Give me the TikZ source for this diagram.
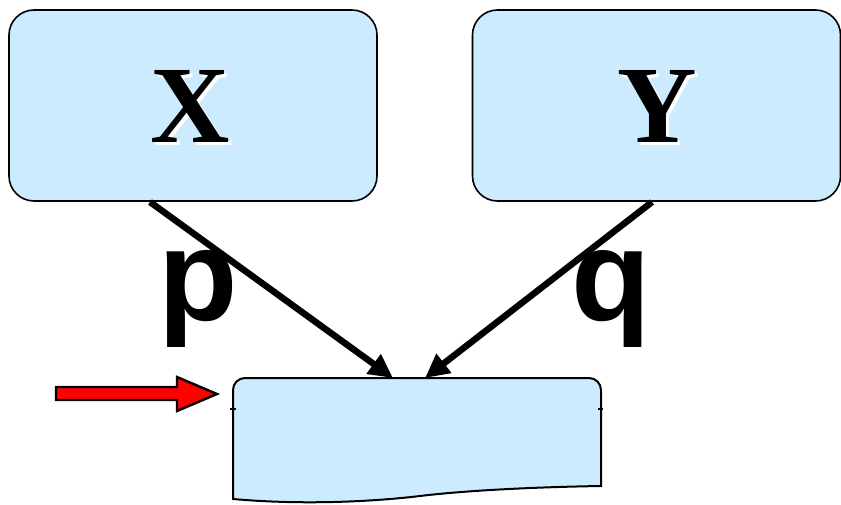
\documentclass[tikz,border=0pt]{standalone}
\usepackage{fontspec}
\setmainfont{Liberation Serif}
\newfontfamily\sansf{Liberation Sans}
\usetikzlibrary{arrows.meta}
\definecolor{boxblue}{HTML}{CCEBFF}
\tikzset{
  bigbox/.style={draw=black, line width=1.6pt, fill=boxblue, rounded corners=25pt,
    minimum width=368pt, minimum height=191pt, inner sep=0pt},
  bigletter/.style={font=\fontsize{110}{110}\selectfont\bfseries, anchor=base, inner sep=0pt},
  shadowletter/.style={bigletter, text=white},
  biglabel/.style={font=\sansf\fontsize{130}{130}\selectfont\bfseries, anchor=base, inner sep=0pt},
  conn/.style={line width=6.5pt, -{Triangle[length=24pt,width=23pt]}},
  docline/.style={draw=black, line width=2pt, fill=boxblue},
  redarrow/.style={draw=black, line width=2.4pt, fill=red}
}
\begin{document}
\begin{tikzpicture}[x=1pt,y=-1pt]
\useasboundingbox (0,0) rectangle (841,505);
% top boxes
\node[bigbox] (X) at (193,105.5) {};
\node[bigbox] (Y) at (656.5,105.5) {};
\node[shadowletter] (Xs) at (193,146) {X};
\node[bigletter] (Xl) at (190,143) {X};
\node[shadowletter] (Ys) at (660,146) {Y};
\node[bigletter] (Yl) at (657,143) {Y};
% document shape
\path[docline] (233,499) -- (233,390) arc[start angle=180, end angle=90, radius=12pt]
  -- (589,378) arc[start angle=90, end angle=0, radius=12pt]
  -- (601,486) .. controls (540,487) and (470,490) .. (420,496)
  .. controls (370,502) and (300,505) .. (233,499) -- cycle;
\draw[line width=2pt] (230,409) -- (236,409) (598,409) -- (603,409);
\node[inner sep=0pt, minimum width=368pt, minimum height=110pt] (doc) at (417,433) {};
% connector anchors
\coordinate (xa) at (150,202);
\coordinate (ya) at (652,202);
\coordinate (da) at (393,378);
\coordinate (db) at (425,378);
\draw[conn] (xa) -- (da);
\draw[conn] (ya) -- (db);
% labels
\node[biglabel] (p) at (198,320) {p};
\node[biglabel] (q) at (611,320) {q};
% red arrow
\path[redarrow] (56,387) -- (177,387) -- (177,377) -- (217,394) -- (177,411) -- (177,400) -- (56,400) -- cycle;
\end{tikzpicture}
\end{document}
